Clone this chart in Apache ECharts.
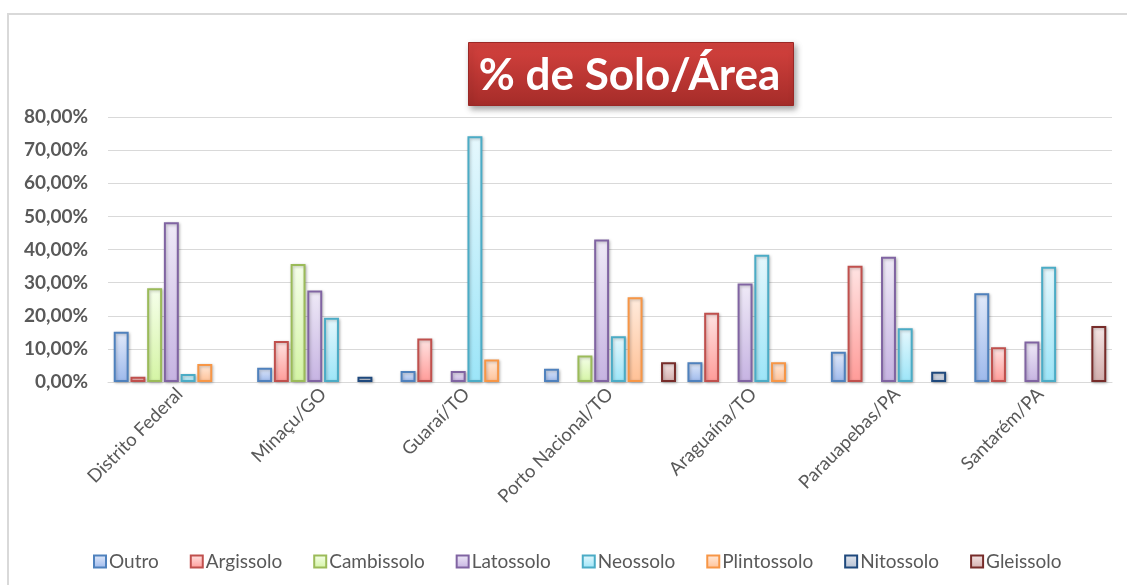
<!DOCTYPE html>
<html>
<head>
<meta charset="utf-8">
<script src="https://cdn.jsdelivr.net/npm/echarts@6/dist/echarts.min.js"></script>
<style>
  html, body { margin: 0; padding: 0; background: #fff; }
  #chart { width: 1127px; height: 585px; }
</style>
</head>
<body>
<div id="chart"></div>
<script>
// categorias (municipios)
var categories = ['Distrito Federal', 'Minaçu/GO', 'Guaraí/TO', 'Porto Nacional/TO', 'Araguaína/TO', 'Parauapebas/PA', 'Santarém/PA'];
var yTicks = [0, 10, 20, 30, 40, 50, 60, 70, 80];

// % de solo por area (null = sem barra)
var outro       = [15.2, 4.3, 3.3, 4.0, 6.0, 9.1, 26.8];
var argissolo   = [1.6, 12.4, 13.1, null, 20.9, 35.1, 10.5];
var cambissolo  = [28.3, 35.6, null, 8.0, null, null, null];
var latossolo   = [48.2, 27.6, 3.3, 43.0, 29.7, 37.8, 12.2];
var neossolo    = [2.4, 19.4, 74.2, 13.8, 38.4, 16.2, 34.8];
var plintossolo = [5.4, null, 6.8, 25.6, 6.0, null, null];
var nitossolo   = [null, 1.6, null, null, null, 3.1, null];
var gleissolo   = [null, null, null, 6.0, null, null, 16.9];

var seriesDefs = [
  { name: 'Outro',       data: outro,       border: '#4F81BD', top: '#E2EAFA', bottom: '#9DB9EC' },
  { name: 'Argissolo',   data: argissolo,   border: '#C0504D', top: '#FFE4E3', bottom: '#FF9B98' },
  { name: 'Cambissolo',  data: cambissolo,  border: '#9BBB59', top: '#F6FFEB', bottom: '#D4F4A4' },
  { name: 'Latossolo',   data: latossolo,   border: '#8064A2', top: '#EFEAF7', bottom: '#C6B3E2' },
  { name: 'Neossolo',    data: neossolo,    border: '#4BACC6', top: '#E6F8FD', bottom: '#9CE5F8' },
  { name: 'Plintossolo', data: plintossolo, border: '#F79646', top: '#FFEBDD', bottom: '#FFC196' },
  { name: 'Nitossolo',   data: nitossolo,   border: '#1F497D', top: '#E2E6EE', bottom: '#B6C1D3' },
  { name: 'Gleissolo',   data: gleissolo,   border: '#772C2A', top: '#F6E6E6', bottom: '#D2AEAD' }
];

var font = 'Lato, "Open Sans", sans-serif';

function grad(a, b) {
  return new echarts.graphic.LinearGradient(0, 0, 0, 1, [
    { offset: 0, color: a },
    { offset: 1, color: b }
  ]);
}

var chart = echarts.init(document.getElementById('chart'));

var option = {
  backgroundColor: '#fff',
  animation: false,
  graphic: [
    {
      type: 'rect',
      shape: { x: 8, y: 14, width: 1140, height: 600 },
      style: { fill: 'none', stroke: '#D9D9D9', lineWidth: 2 },
      silent: true
    },
    {
      type: 'group',
      left: 468,
      top: 42,
      children: [
        {
          type: 'rect',
          shape: { x: 0, y: 0, width: 325, height: 63 },
          style: {
            fill: grad('#D5423E', '#A52C29'),
            stroke: '#9A2826',
            lineWidth: 1,
            shadowBlur: 6,
            shadowOffsetX: 2,
            shadowOffsetY: 3,
            shadowColor: 'rgba(0,0,0,0.35)'
          }
        },
        {
          type: 'text',
          x: 161,
          y: 33,
          style: {
            text: '% de Solo/Área',
            fill: '#fff',
            font: 'bold 44px ' + font,
            align: 'center',
            verticalAlign: 'middle'
          }
        }
      ]
    }
  ],
  legend: {
    bottom: 9,
    left: 88,
    icon: 'rect',
    itemWidth: 12,
    itemHeight: 12,
    itemGap: 31,
    textStyle: { color: '#595959', fontSize: 19, fontFamily: font, padding: [0, 0, 0, -2] },
    data: seriesDefs.map(function (s) { return s.name; })
  },
  grid: { left: 108, right: 15, top: 117, bottom: 203 },
  xAxis: {
    type: 'category',
    data: categories,
    axisLine: { lineStyle: { color: '#D9D9D9', width: 1 } },
    axisTick: { show: false },
    axisLabel: {
      rotate: 45,
      interval: 0,
      margin: 9,
      color: '#595959',
      fontSize: 18.5,
      fontFamily: font
    }
  },
  yAxis: {
    type: 'value',
    min: 0,
    max: 80,
    interval: 10,
    axisLine: { show: false },
    axisTick: { show: false },
    splitLine: { lineStyle: { color: '#D9D9D9', width: 1 } },
    axisLabel: {
      margin: 20,
      color: '#595959',
      fontSize: 19,
      fontWeight: 'bold',
      fontFamily: font,
      formatter: function (v) { return v.toFixed(2).replace('.', ',') + '%'; }
    }
  },
  series: seriesDefs.map(function (s) {
    return {
      name: s.name,
      type: 'bar',
      data: s.data,
      barGap: '12%',
      barCategoryGap: '8%',
      itemStyle: {
        color: grad(s.top, s.bottom),
        borderColor: s.border,
        borderWidth: 2,
        shadowBlur: 3,
        shadowOffsetX: 1,
        shadowOffsetY: 1,
        shadowColor: 'rgba(0,0,0,0.25)'
      }
    };
  })
};

chart.setOption(option);
</script>
</body>
</html>
